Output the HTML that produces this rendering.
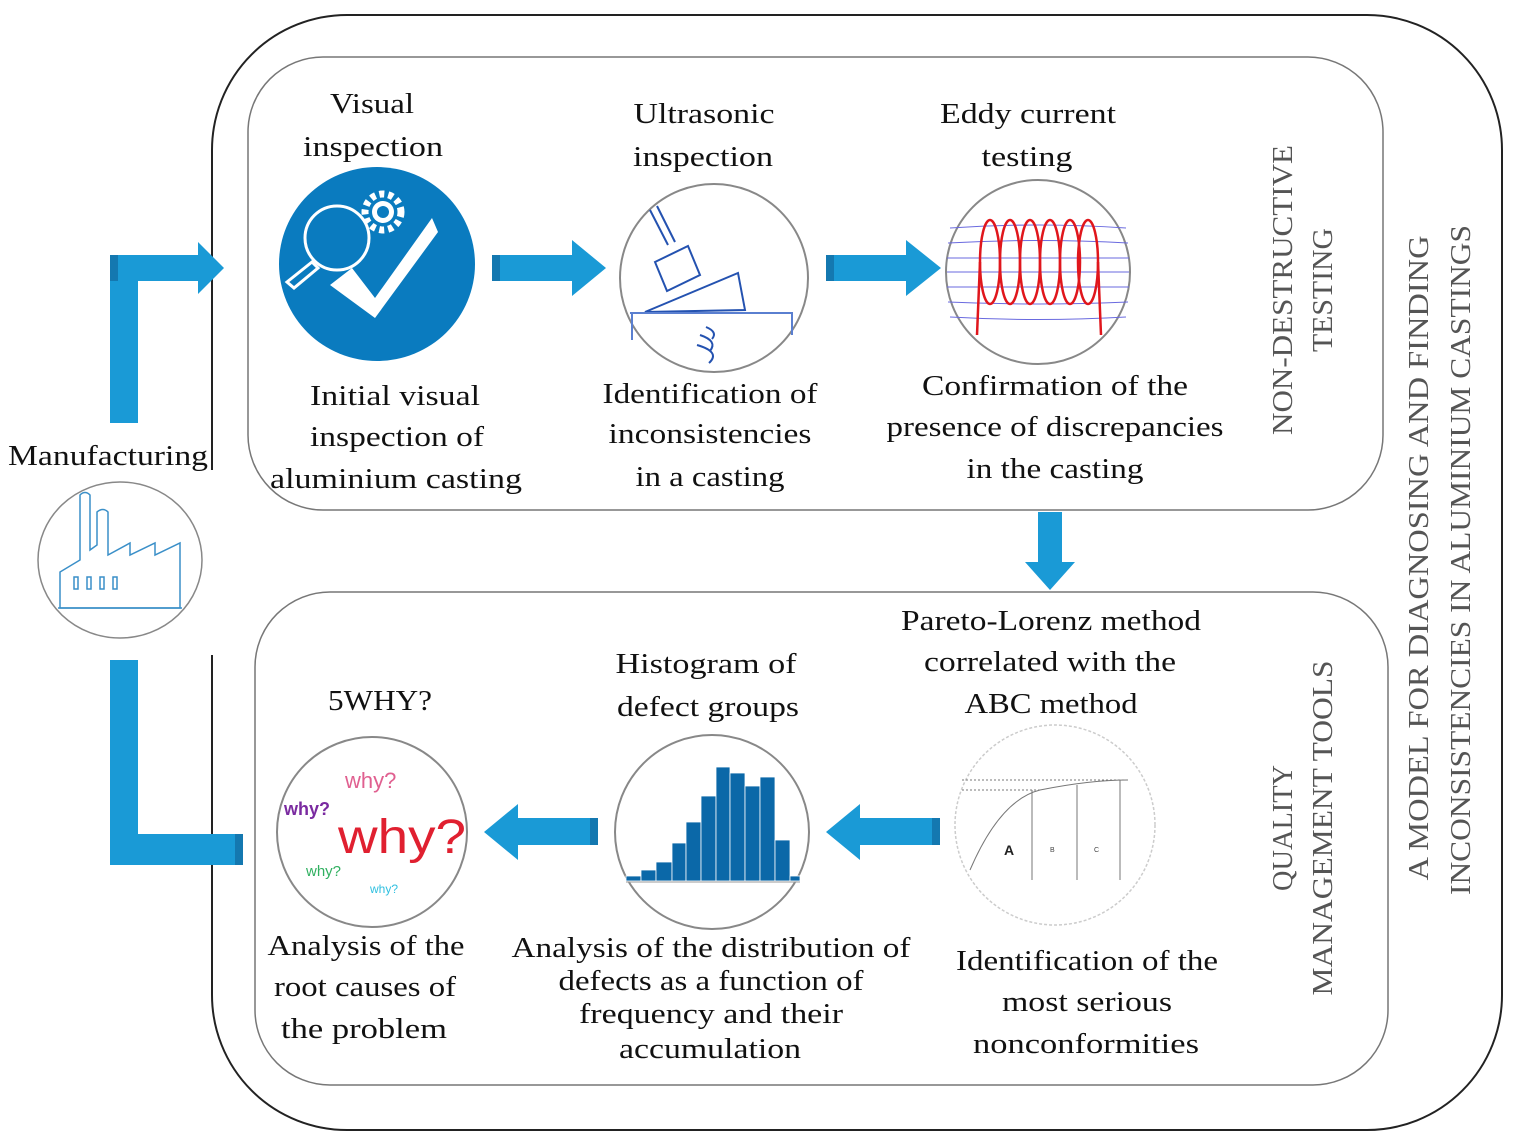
<!DOCTYPE html>
<html><head><meta charset="utf-8"><style>
html,body{margin:0;padding:0;background:#fff;}
svg{display:block;}
.s{font-family:"Liberation Serif",serif;}
.w{font-family:"Liberation Sans",sans-serif;}
</style></head><body>
<svg width="1517" height="1143" viewBox="0 0 1517 1143" xmlns="http://www.w3.org/2000/svg">
<rect x="212" y="15" width="1290" height="1115" rx="135" ry="135" fill="none" stroke="#222" stroke-width="2"/>
<rect x="200" y="425" width="14" height="230" fill="#fff"/>
<line x1="212" y1="425" x2="212" y2="470" stroke="#222" stroke-width="2"/>
<rect x="248" y="57" width="1135" height="453" rx="75" ry="75" fill="none" stroke="#777" stroke-width="1.5"/>
<rect x="255" y="592" width="1133" height="493" rx="75" ry="75" fill="none" stroke="#777" stroke-width="1.5"/>

<g fill="#1a9ad6">
<rect x="110" y="255" width="28" height="168"/>
<polygon points="110,255 198,255 198,242 224,268 198,294 198,281 110,281"/>
<rect x="110" y="660" width="28" height="205"/>
<rect x="110" y="834" width="133" height="31"/>
</g>
<rect x="110" y="255" width="8" height="26" fill="#1478b0"/>
<rect x="235" y="834" width="8" height="31" fill="#1478b0"/>

<g fill="#1a9ad6">
<polygon points="492,255 572,255 572,240 606,268 572,296 572,281 492,281"/>
<polygon points="826,255 906,255 906,240 941,268 906,296 906,281 826,281"/>
<polygon points="1038,512 1062,512 1062,562 1075,562 1050,590 1025,562 1038,562"/>
<polygon points="598,818 518,818 518,804 484,832 518,860 518,845 598,845"/>
<polygon points="940,818 860,818 860,804 826,832 860,860 860,845 940,845"/>
</g>
<rect x="492" y="255" width="8" height="26" fill="#1478b0"/>
<rect x="826" y="255" width="8" height="26" fill="#1478b0"/>
<rect x="590" y="818" width="8" height="27" fill="#1478b0"/>
<rect x="932" y="818" width="8" height="27" fill="#1478b0"/>

<ellipse cx="377" cy="264" rx="98" ry="97" fill="#0a7bbf"/>
<circle cx="337" cy="238" r="32" fill="none" stroke="#fff" stroke-width="3"/>
<polygon points="312,262 318,268 294,288 287,282" fill="none" stroke="#fff" stroke-width="3"/>
<circle cx="383" cy="212" r="18" fill="none" stroke="#fff" stroke-width="7" stroke-dasharray="5 4"/>
<circle cx="383" cy="212" r="11" fill="#fff"/>
<circle cx="383" cy="212" r="6" fill="#0a7bbf"/>
<polygon points="330,285 352,268 375,298 432,218 438,232 375,318" fill="#fff"/>

<circle cx="714" cy="278" r="94" fill="#fff" stroke="#888" stroke-width="2"/>
<g fill="none" stroke="#2452b0" stroke-width="2">
<line x1="650" y1="210" x2="668" y2="245"/><line x1="657" y1="206" x2="675" y2="242"/>
<polygon points="655,262 688,246 700,275 667,291"/>
<polygon points="645,312 738,273 745,310"/>
<line x1="630" y1="313" x2="793" y2="313" stroke="#5a7fd0"/>
<line x1="632" y1="313" x2="632" y2="340" stroke="#5a7fd0"/>
<line x1="792" y1="313" x2="792" y2="335" stroke="#5a7fd0"/>
<path d="M706,327 q12,5 6,12 M700,335 q18,6 10,16 M697,345 q24,7 12,18"/>
</g>

<circle cx="1038" cy="272" r="92" fill="#fff" stroke="#888" stroke-width="2"/>
<g stroke="#6a6adf" stroke-width="1" fill="none">
<path d="M950,228 Q1038,222 1126,228"/><path d="M948,243 Q1038,238 1128,243"/>
<path d="M947,258 L1129,258"/><path d="M947,272 L1129,272"/><path d="M947,287 L1129,287"/>
<path d="M948,302 Q1038,306 1128,302"/><path d="M950,317 Q1038,322 1126,317"/>
</g>
<g stroke="#e0161c" stroke-width="2.5" fill="none">
<ellipse cx="990" cy="262" rx="10" ry="42"/><ellipse cx="1010" cy="262" rx="10" ry="42"/>
<ellipse cx="1030" cy="262" rx="10" ry="42"/><ellipse cx="1050" cy="262" rx="10" ry="42"/>
<ellipse cx="1070" cy="262" rx="10" ry="42"/><ellipse cx="1088" cy="262" rx="10" ry="42"/>
<line x1="980" y1="262" x2="977" y2="335"/><line x1="1098" y1="262" x2="1101" y2="335"/>
</g>

<ellipse cx="120" cy="560" rx="82" ry="78" fill="#fff" stroke="#888" stroke-width="1.5"/>
<g fill="none" stroke="#3a8fc8" stroke-width="1.5">
<path d="M60,608 L60,572 L80,560 L80,495 Q85,490 90,495 L90,550 L97,545 L97,512 Q103,507 108,512 L108,555 L130,543 L130,555 L155,543 L155,555 L180,543 L180,608 Z"/>
<line x1="58" y1="608" x2="182" y2="608"/>
<rect x="74" y="577" width="4" height="12"/><rect x="87" y="577" width="4" height="12"/><rect x="100" y="577" width="4" height="12"/><rect x="113" y="577" width="4" height="12"/>
</g>

<circle cx="372" cy="832" r="95" fill="#fff" stroke="#888" stroke-width="2"/>
<g class="w">
<text x="345" y="788" font-size="22" fill="#e06090">why?</text>
<text x="284" y="815" font-size="18" font-weight="bold" fill="#7a2aa0">why?</text>
<text x="338" y="853" font-size="48" fill="#e02030" textLength="128" lengthAdjust="spacingAndGlyphs">why?</text>
<text x="306" y="876" font-size="15" fill="#30b060">why?</text>
<text x="370" y="893" font-size="12" fill="#30c0e0">why?</text>
</g>

<circle cx="712" cy="832" r="97" fill="#fff" stroke="#888" stroke-width="2"/>
<g fill="#0b68a8" stroke="#fff" stroke-width="0.8">
<rect x="626" y="876" width="15" height="5"/><rect x="641" y="870" width="15" height="11"/>
<rect x="656" y="862" width="16" height="19"/><rect x="672" y="843" width="14" height="38"/>
<rect x="686" y="822" width="15" height="59"/><rect x="701" y="796" width="15" height="85"/>
<rect x="716" y="767" width="14" height="114"/><rect x="730" y="773" width="15" height="108"/>
<rect x="745" y="786" width="15" height="95"/><rect x="760" y="777" width="15" height="104"/>
<rect x="775" y="840" width="15" height="41"/><rect x="790" y="876" width="10" height="5"/>
</g>
<line x1="626" y1="882" x2="800" y2="882" stroke="#999"/>

<circle cx="1055" cy="825" r="100" fill="#fff" stroke="#ccc" stroke-width="1.5" stroke-dasharray="3 2"/>
<g stroke="#777" stroke-width="1" fill="none">
<path d="M970,870 Q1000,800 1040,790 Q1090,780 1128,780"/>
<line x1="1032" y1="790" x2="1032" y2="880"/><line x1="1077" y1="785" x2="1077" y2="880"/>
<line x1="1120" y1="780" x2="1120" y2="880"/>
<line x1="962" y1="790" x2="1040" y2="790" stroke-dasharray="2 2"/>
<line x1="962" y1="780" x2="1128" y2="780" stroke-dasharray="2 2"/>
</g>
<g class="w">
<text x="1004" y="855" font-size="14" font-weight="bold" fill="#222">A</text>
<text x="1050" y="852" font-size="7" fill="#444">B</text>
<text x="1094" y="852" font-size="7" fill="#444">C</text>
</g>

<g class="s" font-size="28" fill="#111" text-anchor="middle" lengthAdjust="spacingAndGlyphs">
<text x="372" y="113" textLength="84" lengthAdjust="spacingAndGlyphs">Visual</text>
<text x="373" y="156" textLength="140" lengthAdjust="spacingAndGlyphs">inspection</text>
<text x="704" y="123" textLength="141" lengthAdjust="spacingAndGlyphs">Ultrasonic</text>
<text x="703" y="166" textLength="140" lengthAdjust="spacingAndGlyphs">inspection</text>
<text x="1028" y="123" textLength="176" lengthAdjust="spacingAndGlyphs">Eddy current</text>
<text x="1027" y="166" textLength="91" lengthAdjust="spacingAndGlyphs">testing</text>
<text x="395" y="405" textLength="170" lengthAdjust="spacingAndGlyphs">Initial visual</text>
<text x="397" y="446" textLength="174" lengthAdjust="spacingAndGlyphs">inspection of</text>
<text x="396" y="488" textLength="252" lengthAdjust="spacingAndGlyphs">aluminium casting</text>
<text x="710" y="403" textLength="215" lengthAdjust="spacingAndGlyphs">Identification of</text>
<text x="710" y="443" textLength="203" lengthAdjust="spacingAndGlyphs">inconsistencies</text>
<text x="710" y="486" textLength="149" lengthAdjust="spacingAndGlyphs">in a casting</text>
<text x="1055" y="395" textLength="266" lengthAdjust="spacingAndGlyphs">Confirmation of the</text>
<text x="1055" y="436" textLength="337" lengthAdjust="spacingAndGlyphs">presence of discrepancies</text>
<text x="1055" y="478" textLength="177" lengthAdjust="spacingAndGlyphs">in the casting</text>
<text x="108" y="465" textLength="200" lengthAdjust="spacingAndGlyphs">Manufacturing</text>
<text x="1051" y="630" textLength="300" lengthAdjust="spacingAndGlyphs">Pareto-Lorenz method</text>
<text x="1050" y="671" textLength="252" lengthAdjust="spacingAndGlyphs">correlated with the</text>
<text x="1051" y="713" textLength="173" lengthAdjust="spacingAndGlyphs">ABC method</text>
<text x="706" y="673" textLength="181" lengthAdjust="spacingAndGlyphs">Histogram of</text>
<text x="708" y="716" textLength="182" lengthAdjust="spacingAndGlyphs">defect groups</text>
<text x="380" y="710" textLength="104" lengthAdjust="spacingAndGlyphs">5WHY?</text>
<text x="366" y="955" textLength="197" lengthAdjust="spacingAndGlyphs">Analysis of the</text>
<text x="365" y="996" textLength="182" lengthAdjust="spacingAndGlyphs">root causes of</text>
<text x="364" y="1038" textLength="166" lengthAdjust="spacingAndGlyphs">the problem</text>
<text x="711" y="957" textLength="399" lengthAdjust="spacingAndGlyphs">Analysis of the distribution of</text>
<text x="711" y="990" textLength="305" lengthAdjust="spacingAndGlyphs">defects as a function of</text>
<text x="711" y="1023" textLength="264" lengthAdjust="spacingAndGlyphs">frequency and their</text>
<text x="710" y="1058" textLength="182" lengthAdjust="spacingAndGlyphs">accumulation</text>
<text x="1087" y="970" textLength="262" lengthAdjust="spacingAndGlyphs">Identification of the</text>
<text x="1087" y="1011" textLength="170" lengthAdjust="spacingAndGlyphs">most serious</text>
<text x="1086" y="1053" textLength="226" lengthAdjust="spacingAndGlyphs">nonconformities</text>
</g>
<g class="s" font-size="28" fill="#555" text-anchor="middle">
<text transform="translate(1292,290) rotate(-90)" textLength="290" lengthAdjust="spacingAndGlyphs">NON-DESTRUCTIVE</text>
<text transform="translate(1332,290) rotate(-90)" textLength="124" lengthAdjust="spacingAndGlyphs">TESTING</text>
<text transform="translate(1292,828) rotate(-90)" textLength="126" lengthAdjust="spacingAndGlyphs">QUALITY</text>
<text transform="translate(1332,828) rotate(-90)" textLength="335" lengthAdjust="spacingAndGlyphs">MANAGEMENT  TOOLS</text>
<text transform="translate(1428,558) rotate(-90)" textLength="645" lengthAdjust="spacingAndGlyphs">A MODEL  FOR DIAGNOSING AND FINDING</text>
<text transform="translate(1470,560) rotate(-90)" textLength="670" lengthAdjust="spacingAndGlyphs">INCONSISTENCIES IN ALUMINIUM  CASTINGS</text>
</g>
</svg>
</body></html>
